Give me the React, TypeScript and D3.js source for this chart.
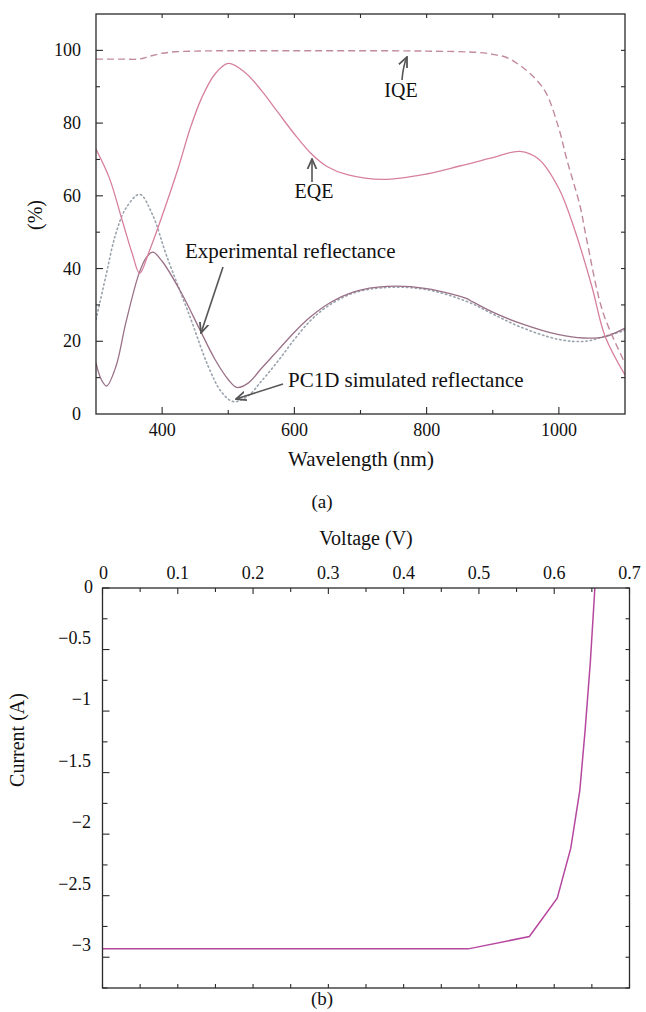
import React from "react";
import * as d3 from "d3";

// ---------- Data: panel (a) ----------
const eqeWl = [300, 320, 340, 355, 366, 380, 400, 425, 442, 460, 480, 500, 525, 550, 575, 600, 626, 650, 680, 734, 800, 850, 900, 941, 970, 1000, 1024, 1050, 1070, 1100];
const eqeVal = [72.8, 65, 53, 44, 38.7, 44.5, 54.5, 68, 78.3, 87, 93.5, 96.4, 94, 89, 83, 77, 71.5, 68, 65.8, 64.5, 66, 68.2, 70.5, 72.2, 70, 62, 50.6, 35, 21.3, 10.75];

const iqeWl = [300, 340, 365, 380, 400, 420, 450, 500, 600, 700, 800, 880, 900, 920, 940, 960, 980, 1000, 1012, 1032, 1042, 1067, 1100];
const iqeVal = [97.6, 97.6, 97.6, 98.3, 99.2, 99.6, 99.8, 99.9, 99.9, 99.9, 99.8, 99.4, 98.9, 98.1, 96, 93, 88.5, 78.5, 70, 57.2, 48, 27.8, 14];

const expWl = [300, 308, 316, 330, 345, 365, 376, 386, 400, 430, 457, 480, 500, 513, 530, 550, 575, 600, 625, 654, 690, 740, 800, 860, 866, 900, 941, 1000, 1037, 1070, 1100];
const expVal = [14, 9.5, 7.7, 13, 25, 38.6, 43, 44.5, 42, 33, 23.2, 15, 9.5, 7.3, 8.5, 12.5, 17.5, 22.5, 26.8, 30.6, 33.6, 35.1, 34.5, 31.8, 31.2, 28, 25, 21.8, 20.9, 21.3, 23.6];

const simWl = [300, 315, 329, 345, 366, 385, 407, 442, 470, 490, 508, 530, 550, 575, 600, 625, 650, 690, 740, 800, 860, 900, 941, 1000, 1040, 1070, 1100];
const simVal = [26, 38, 49, 56.5, 60.4, 55, 43.4, 26.8, 13, 6, 3.4, 5, 9, 14.5, 20.5, 25.8, 29.6, 33.3, 34.8, 34.2, 31, 27.5, 24, 20.5, 20, 21.4, 23];

const aXMajor = [400, 600, 800, 1000];
const aXMinor = [500, 700, 900];
const aYMajor = [0, 20, 40, 60, 80, 100];
const aYMinor = [10, 30, 50, 70, 90];

// ---------- Data: panel (b) ----------
const ivV = [0, 0.486, 0.567, 0.604, 0.622, 0.634, 0.641, 0.648, 0.654];
const ivI = [-2.932, -2.932, -2.832, -2.52, -2.114, -1.645, -1.16, -0.6, 0];

const bXMajor = [0, 0.1, 0.2, 0.3, 0.4, 0.5, 0.6, 0.7];
const bXMinor = [0.05, 0.15, 0.25, 0.35, 0.45, 0.55, 0.65];
const bYMajor = [0, -0.5, -1, -1.5, -2, -2.5, -3];
const bYMinor = [-0.25, -0.75, -1.25, -1.75, -2.25, -2.75, -3.25];

const FONT = "'Liberation Serif', 'DejaVu Serif', serif";
const AXIS = "#2a2a2a";

function fmtMinus(v: number): string {
  return v < 0 ? "\u2212" + String(Math.abs(v)) : String(v);
}

export default function App() {
  // panel (a) scales
  const xa = d3.scaleLinear().domain([300, 1100]).range([96, 625]);
  const ya = d3.scaleLinear().domain([0, 110]).range([414, 14]);
  const lineA = (wl: number[], v: number[]) =>
    d3
      .line<number>()
      .x((_, i) => xa(wl[i]))
      .y((d) => ya(d))
      .curve(d3.curveCatmullRom.alpha(0.5))(v) || "";

  // panel (b) scales
  const xb = d3.scaleLinear().domain([0, 0.7]).range([102.5, 629.5]);
  const yb = d3.scaleLinear().domain([-3.25, 0]).range([988, 588]);
  const ivPath =
    d3
      .line<number>()
      .x((_, i) => xb(ivV[i]))
      .y((d) => yb(d))(ivI) || "";

  const [ax0, ax1] = xa.range();
  const [ay0, ay1] = ya.range();
  const [bx0, bx1] = xb.range();
  const [by0, by1] = yb.range();

  const allATicksX = [...aXMajor, ...aXMinor];
  const allATicksY = [...aYMajor, ...aYMinor].filter((v) => v > 0);

  return (
    <svg
      width={646}
      height={1012}
      style={{ position: "absolute", left: 0, top: 0, background: "#fff", fontFamily: FONT }}
    >
      <defs>
        <marker id="arr" viewBox="0 0 10 10" refX="9" refY="5" markerWidth="7" markerHeight="7" orient="auto-start-reverse">
          <path d="M0,1 L9,5 L0,9" fill="none" stroke="#555" strokeWidth="1.6" />
        </marker>
      </defs>

      {/* ================= Panel (a) ================= */}
      <clipPath id="clipA">
        <rect x={ax0} y={ay1} width={ax1 - ax0} height={ay0 - ay1} />
      </clipPath>
      <g clipPath="url(#clipA)" fill="none">
        <path d={lineA(simWl, simVal)} stroke="#9aa3ad" strokeWidth={1.6} strokeDasharray="1.4 3" strokeLinecap="round" />
        <path d={lineA(expWl, expVal)} stroke="#9a7087" strokeWidth={1.3} />
        <path d={lineA(eqeWl, eqeVal)} stroke="#d7809d" strokeWidth={1.3} />
        <path d={lineA(iqeWl, iqeVal)} stroke="#c28a9d" strokeWidth={1.4} strokeDasharray="7 4" />
      </g>

      {/* frame */}
      <rect x={ax0} y={ay1} width={ax1 - ax0} height={ay0 - ay1} fill="none" stroke={AXIS} strokeWidth={1.3} />

      {/* x ticks (bottom and top) */}
      {allATicksX.map((t) => {
        const major = aXMajor.includes(t);
        const len = major ? 7 : 4;
        return (
          <g key={"ax" + t} stroke={AXIS} strokeWidth={1.1}>
            <line x1={xa(t)} x2={xa(t)} y1={ay0} y2={ay0 - len} />
            <line x1={xa(t)} x2={xa(t)} y1={ay1} y2={ay1 + 4} />
          </g>
        );
      })}
      {aXMajor.map((t) => (
        <text key={"axl" + t} x={xa(t)} y={436} textAnchor="middle" fontSize={18} fill="#111">
          {t}
        </text>
      ))}

      {/* y ticks (left and right) */}
      {allATicksY.map((t) => {
        const major = aYMajor.includes(t);
        const len = major ? 7 : 4;
        return (
          <g key={"ay" + t} stroke={AXIS} strokeWidth={1.1}>
            <line x1={ax0} x2={ax0 + len} y1={ya(t)} y2={ya(t)} />
            <line x1={ax1} x2={ax1 - 4} y1={ya(t)} y2={ya(t)} />
          </g>
        );
      })}
      {aYMajor.map((t) => (
        <text key={"ayl" + t} x={81} y={ya(t) + 6} textAnchor="end" fontSize={18} fill="#111">
          {t}
        </text>
      ))}

      <text x={361} y={466} textAnchor="middle" fontSize={21} fill="#111">
        Wavelength (nm)
      </text>
      <text transform="translate(42,215) rotate(-90)" textAnchor="middle" fontSize={20} fill="#111">
        (%)
      </text>

      {/* annotations */}
      <text x={401} y={97} textAnchor="middle" fontSize={20} fill="#111">IQE</text>
      <path d="M402,80 Q403,66 407,57" fill="none" stroke="#555" strokeWidth={1.6} markerEnd="url(#arr)" />
      <text x={314} y={198} textAnchor="middle" fontSize={20} fill="#111">EQE</text>
      <path d="M312,182 L312,159" fill="none" stroke="#555" strokeWidth={1.6} markerEnd="url(#arr)" />
      <text x={185} y={258} fontSize={21} fill="#111">Experimental reflectance</text>
      <path d="M223,267 L201,333" fill="none" stroke="#555" strokeWidth={1.6} markerEnd="url(#arr)" />
      <text x={288} y={387} fontSize={21} fill="#111">PC1D simulated reflectance</text>
      <path d="M283,384 L236,399" fill="none" stroke="#555" strokeWidth={1.6} markerEnd="url(#arr)" />

      <text x={322} y={508} textAnchor="middle" fontSize={19} fill="#111">(a)</text>

      {/* ================= Panel (b) ================= */}
      <path d={ivPath} fill="none" stroke="#b6479f" strokeWidth={1.5} />

      <rect x={bx0} y={by1} width={bx1 - bx0} height={by0 - by1} fill="none" stroke={AXIS} strokeWidth={1.3} />

      {[...bXMajor, ...bXMinor].map((t) => {
        const major = bXMajor.some((m) => Math.abs(m - t) < 1e-9);
        return (
          <g key={"bx" + t} stroke={AXIS} strokeWidth={1.1}>
            <line x1={xb(t)} x2={xb(t)} y1={by1} y2={by1 + (major ? 6 : 4)} />
            <line x1={xb(t)} x2={xb(t)} y1={by0} y2={by0 - 4} />
          </g>
        );
      })}
      {bXMajor.map((t) => (
        <text key={"bxl" + t} x={xb(t) + (t === 0 ? 1 : 0)} y={579} textAnchor="middle" fontSize={18} fill="#111">
          {t}
        </text>
      ))}

      {[...bYMajor, ...bYMinor].map((t) => {
        const major = bYMajor.some((m) => Math.abs(m - t) < 1e-9);
        return (
          <g key={"by" + t} stroke={AXIS} strokeWidth={1.1}>
            <line x1={bx0} x2={bx0 + (major ? 7 : 5)} y1={yb(t)} y2={yb(t)} />
            <line x1={bx1} x2={bx1 - 4} y1={yb(t)} y2={yb(t)} />
          </g>
        );
      })}
      {bYMajor.map((t) => (
        <text key={"byl" + t} x={t === 0 ? 93 : 91} y={yb(t) + (t === 0 ? 5 : -6)} textAnchor="end" fontSize={18} fill="#111">
          {fmtMinus(t)}
        </text>
      ))}

      <text x={366} y={545} textAnchor="middle" fontSize={20} fill="#111">
        Voltage (V)
      </text>
      <text transform="translate(24,740) rotate(-90)" textAnchor="middle" fontSize={20} fill="#111">
        Current (A)
      </text>
      <text x={322} y={1005} textAnchor="middle" fontSize={19} fill="#111">(b)</text>
    </svg>
  );
}
